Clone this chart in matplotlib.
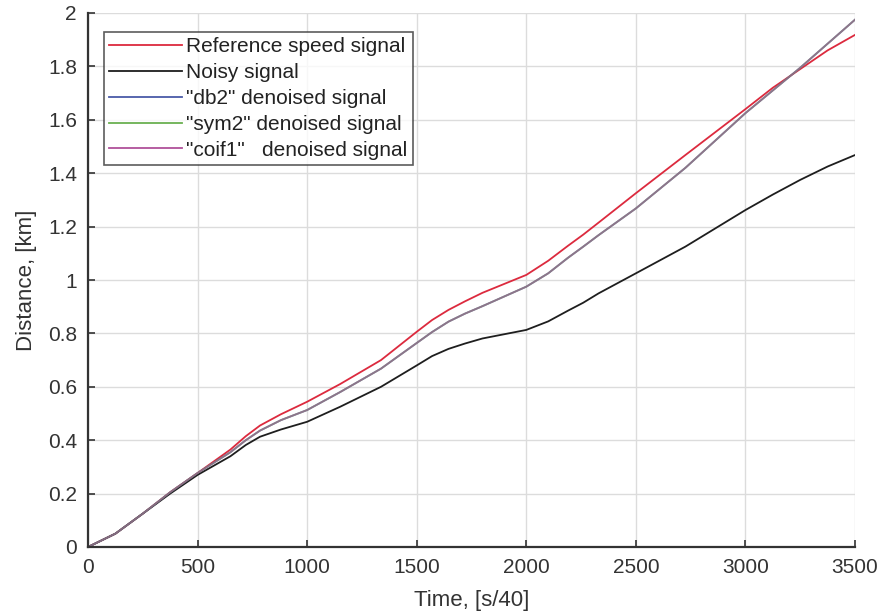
import matplotlib
matplotlib.use("Agg")
import matplotlib.pyplot as plt

plt.rcParams['font.family'] = ['Liberation Sans', 'DejaVu Sans']

# Time axis, [s/40]
t = [0, 125, 250, 375, 500, 650, 720, 785, 880, 1000, 1150, 1337, 1500, 1570,
     1645, 1720, 1800, 2000, 2100, 2190, 2260, 2330, 2500, 2726, 3000, 3125,
     3250, 3375, 3500]

# Distance, [km]
ref = [0, 0.05, 0.125, 0.205, 0.277, 0.365, 0.415, 0.455, 0.497, 0.544, 0.61,
       0.7, 0.806, 0.85, 0.888, 0.92, 0.952, 1.019, 1.072, 1.128, 1.17, 1.215,
       1.325, 1.468, 1.64, 1.72, 1.79, 1.86, 1.918]
noisy = [0, 0.05, 0.125, 0.2, 0.27, 0.34, 0.382, 0.413, 0.44, 0.469, 0.525,
         0.6, 0.68, 0.715, 0.742, 0.762, 0.781, 0.813, 0.845, 0.885, 0.915,
         0.95, 1.025, 1.125, 1.262, 1.32, 1.375, 1.425, 1.468]
db2 = [0, 0.05, 0.125, 0.205, 0.277, 0.355, 0.4, 0.436, 0.475, 0.513, 0.58,
       0.668, 0.764, 0.805, 0.844, 0.874, 0.902, 0.975, 1.025, 1.083, 1.125,
       1.168, 1.268, 1.42, 1.625, 1.71, 1.795, 1.885, 1.975]
sym2 = db2
coif1 = db2

labels = ['Reference speed signal', 'Noisy signal', '"db2" denoised signal',
          '"sym2" denoised signal', '"coif1"   denoised signal']

fig = plt.figure(figsize=(8.83, 6.15), dpi=100)
ax = fig.add_axes([88/883, 1-547/615, (855-88)/883, (547-13)/615])

ax.plot(t, ref, color='#dc2a3e', lw=1.3, label=labels[0])
ax.plot(t, noisy, color='#1e1e1e', lw=1.3, label=labels[1])
ax.plot(t, db2, color='#4a5aa8', lw=1.3, alpha=0.8, label=labels[2])
ax.plot(t, sym2, color='#6ab050', lw=1.3, alpha=0.6, label=labels[3])
ax.plot(t, coif1, color='#b0509a', lw=1.3, alpha=0.5, label=labels[4])

ax.set_xlim(0, 3500)
ax.set_ylim(0, 2)
ax.set_xticks(range(0, 3501, 500))
ax.set_yticks([0, 0.2, 0.4, 0.6, 0.8, 1, 1.2, 1.4, 1.6, 1.8, 2])
ax.set_yticklabels(['0', '0.2', '0.4', '0.6', '0.8', '1', '1.2', '1.4', '1.6', '1.8', '2'])
ax.tick_params(direction='in', length=5, width=1.2, labelsize=15, colors='#333333', pad=8)
ax.grid(True, color='#dcdcdc', lw=1.0)
ax.spines['top'].set_visible(False)
ax.spines['right'].set_visible(False)
for s in ['left', 'bottom']:
    ax.spines[s].set_linewidth(1.6)
    ax.spines[s].set_color('#333333')

ax.set_xlabel('Time, [s/40]', fontsize=16, color='#333333', labelpad=9)
ax.set_ylabel('Distance, [km]', fontsize=16, color='#333333', labelpad=8)

leg = ax.legend(loc='upper left', bbox_to_anchor=(104/883, 1-32/615),
                bbox_transform=fig.transFigure, fontsize=15, frameon=True,
                fancybox=False, edgecolor='#333333', handlelength=3.5,
                handletextpad=0.2, labelspacing=0.33, borderpad=0.25,
                borderaxespad=0)
leg.get_frame().set_linewidth(1.2)
for line in leg.get_lines():
    line.set_alpha(1)
for text in leg.get_texts():
    text.set_color('#222222')

fig.savefig('out.png', dpi=100)
